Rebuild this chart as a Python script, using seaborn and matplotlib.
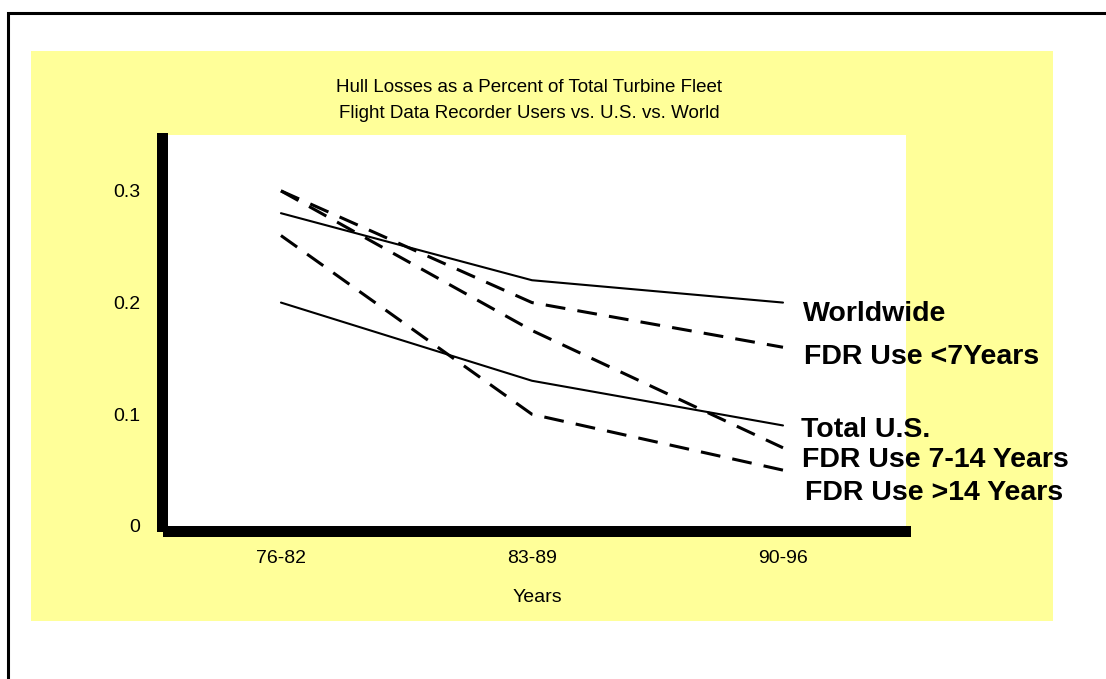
import pandas as pd
import seaborn as sns
import matplotlib.pyplot as plt
from matplotlib.patches import Rectangle

# data
periods = ["76-82", "83-89", "90-96"]
worldwide = [0.28, 0.22, 0.20]
fdr_lt7 = [0.30, 0.20, 0.16]
total_us = [0.20, 0.13, 0.09]
fdr_7_14 = [0.30, 0.175, 0.07]
fdr_gt14 = [0.26, 0.10, 0.05]

series = {
    "Worldwide": worldwide,
    "FDR Use <7Years": fdr_lt7,
    "Total U.S.": total_us,
    "FDR Use 7-14 Years": fdr_7_14,
    "FDR Use >14 Years": fdr_gt14,
}

rows = []
for name, vals in series.items():
    for p, v in zip(periods, vals):
        rows.append({"Years": p, "value": v, "series": name})
df = pd.DataFrame(rows)

sns.set_style("white")
plt.rcParams["font.family"] = ["Liberation Sans", "DejaVu Sans"]
plt.rcParams["text.color"] = "black"
plt.rcParams["axes.labelcolor"] = "black"
plt.rcParams["xtick.color"] = "black"
plt.rcParams["ytick.color"] = "black"

W, H = 1106, 679
fig = plt.figure(figsize=(W / 100, H / 100), dpi=100)


def box(x0, y0, x1, y1, **kw):
    # pixel box (top-left origin) -> figure fraction rectangle
    return Rectangle((x0 / W, 1 - y1 / H), (x1 - x0) / W, (y1 - y0) / H,
                     transform=fig.transFigure, **kw)


# outer frame, yellow panel
fig.patches.append(box(8, 13, 1130, 700, facecolor="none", edgecolor="black", lw=2.2, zorder=-3))
fig.patches.append(box(31, 51, 1053, 621, facecolor="#FFFF99", edgecolor="none", zorder=-2))

ax = fig.add_axes([168 / W, 1 - 526 / H, (906 - 168) / W, (526 - 135) / H])
ax.set_facecolor("white")

styles = {
    "Worldwide": ("", 1.5),
    "Total U.S.": ("", 1.5),
    "FDR Use <7Years": ((6.5, 4), 2.2),
    "FDR Use 7-14 Years": ((6.5, 4), 2.2),
    "FDR Use >14 Years": ((6.5, 4), 2.2),
}
for name in series:
    dash, lw = styles[name]
    sns.lineplot(data=df[df["series"] == name], x="Years", y="value",
                 color="black", lw=lw, sort=False, legend=False, ax=ax,
                 dashes=False)
    if dash:
        ax.lines[-1].set_dashes(dash)

ax.set_xlim(-0.45, 2.49)
ax.set_ylim(0, 0.35)
ax.set_yticks([0, 0.1, 0.2, 0.3])
ax.set_yticklabels(["0", "0.1", "0.2", "0.3"])
ax.tick_params(axis="y", length=0, pad=20, labelsize=14)
ax.tick_params(axis="x", length=0, pad=17, labelsize=14)
ax.set_xlabel("Years", fontsize=14, labelpad=16)
ax.set_ylabel("")
for s in ax.spines.values():
    s.set_visible(False)

# heavy black axis bars
fig.patches.append(box(157, 133, 168, 532, facecolor="black", edgecolor="none", zorder=2))
fig.patches.append(box(163, 526, 911, 537, facecolor="black", edgecolor="none", zorder=2))

# series labels on the right
label_y = [314, 357, 430, 460, 493]
label_x = [803, 804, 801, 802, 805]
for name, lx, ly in zip(series, label_x, label_y):
    fig.text(lx / W, 1 - ly / H, name, fontsize=20.5, fontweight="bold",
             ha="left", va="center", zorder=3)

fig.text(529 / W, 1 - 88 / H, "Hull Losses as a Percent of Total Turbine Fleet",
         fontsize=13.5, ha="center", va="center")
fig.text(529 / W, 1 - 114 / H, "Flight Data Recorder Users vs. U.S. vs. World",
         fontsize=13.5, ha="center", va="center")

fig.savefig("out.png", dpi=100)
